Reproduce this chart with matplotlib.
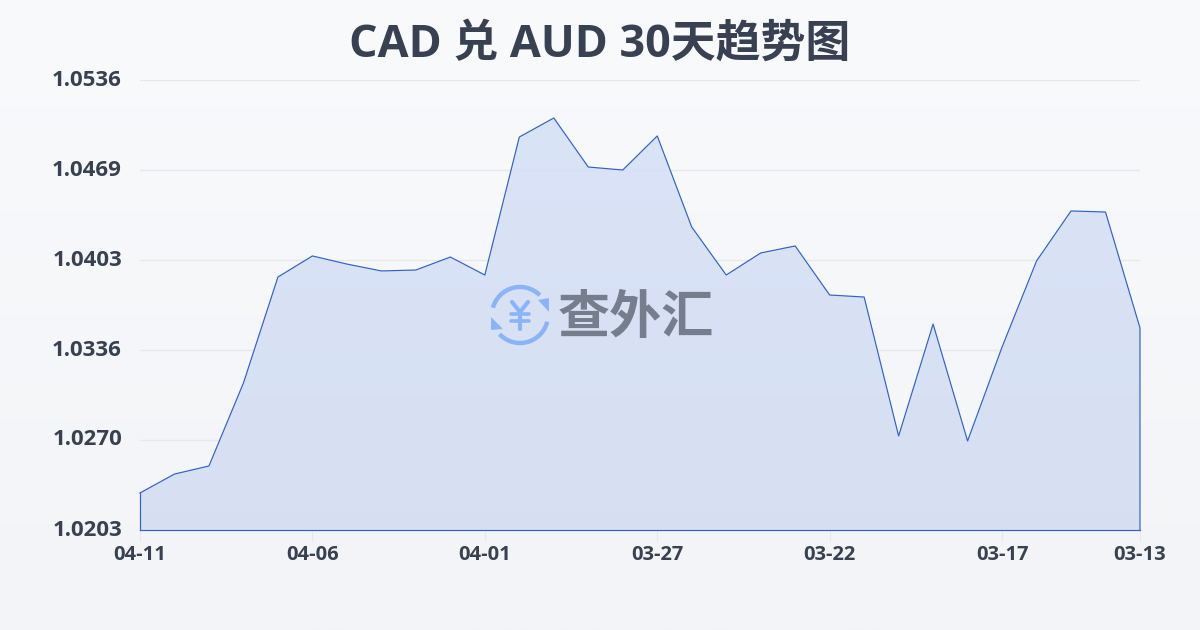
import numpy as np
import matplotlib
matplotlib.use('Agg')
import matplotlib.pyplot as plt
from matplotlib.patches import Arc, Polygon

plt.rcParams['font.family'] = ['Open Sans', 'Noto Sans CJK SC', 'DejaVu Sans']

dates = ['04-11', '04-06', '04-01', '03-27', '03-22', '03-17', '03-13']
date_pos = [0, 5, 10, 15, 20, 25, 29]
y_labels = ['1.0203', '1.0270', '1.0336', '1.0403', '1.0469', '1.0536']
y_ticks = [1.0203, 1.02696, 1.03362, 1.04028, 1.04694, 1.0536]
rates = [1.02304, 1.02444, 1.02504, 1.03118, 1.03902, 1.04058, 1.03998, 1.03947,
         1.03954, 1.04050, 1.03917, 1.04938, 1.05079, 1.04716, 1.04694, 1.04946,
         1.04272, 1.03917, 1.04080, 1.04132, 1.03769, 1.03754, 1.02726, 1.03554,
         1.02689, 1.03384, 1.04021, 1.04391, 1.04383, 1.03525]

fig = plt.figure(figsize=(12, 6.3), dpi=100)

# page background
bg = fig.add_axes([0, 0, 1, 1], zorder=0)
bg.imshow(np.linspace(0, 1, 256).reshape(-1, 1), aspect='auto', extent=(0, 1200, 630, 0),
          cmap=matplotlib.colors.LinearSegmentedColormap.from_list('bg', ['#f9fafc', '#f2f4f7']))
bg.axis('off')

ax = fig.add_axes([140 / 1200, 1 - 530 / 630, 1000 / 1200, 450 / 630], zorder=1)
ax.patch.set_alpha(0)
x = np.arange(len(rates))
ax.set_xlim(0, 29)
ax.set_ylim(y_ticks[0], y_ticks[-1])

for v in y_ticks[1:]:
    ax.axhline(v, color='#e6e8ec', lw=1, zorder=1)

# area fill with a slight vertical gradient
poly = Polygon(np.column_stack([np.r_[x, x[-1], x[0]], np.r_[rates, y_ticks[0], y_ticks[0]]]),
               transform=ax.transData, fc='none', ec='none')
ax.add_patch(poly)
img = ax.imshow(np.linspace(0, 1, 256).reshape(-1, 1), aspect='auto', zorder=2,
                extent=(0, 29, y_ticks[0], y_ticks[-1]), origin='upper',
                cmap=matplotlib.colors.LinearSegmentedColormap.from_list(
                    'fill', [(0.84, 0.885, 0.97, 0.88), (0.83, 0.87, 0.95, 0.88)]))
img.set_clip_path(poly)

ax.plot(np.r_[x, x[-1]], np.r_[rates, y_ticks[0]], color='#2f62c8', lw=0.85, zorder=3, clip_on=False)
ax.plot([0, 0], [rates[0], y_ticks[0]], color='#2f62c8', lw=0.85, zorder=3, clip_on=False)
ax.plot([0, 29], [y_ticks[0], y_ticks[0]], color='#2f62c8', lw=0.85, zorder=3, clip_on=False)

for s in ax.spines.values():
    s.set_visible(False)
ax.set_xticks(date_pos, dates)
ax.set_yticks(y_ticks, y_labels)
ax.tick_params(axis='x', length=8, width=0.8, color='#e6e8ec', pad=3, labelsize=14.5,
               labelcolor='#374151')
ax.tick_params(axis='y', length=0, pad=13, labelsize=16, labelcolor='#374151')
for t in ax.get_xticklabels() + ax.get_yticklabels():
    t.set_fontweight('bold')
for t in ax.get_yticklabels():
    t.set_verticalalignment('center')

fig.text(0.5, 1 - 45 / 630, 'CAD 兑 AUD 30天趋势图', ha='center', va='center', fontsize=32.3,
         fontweight='bold', color='#374151')

# watermark logo, drawn in pixel coordinates
ov = fig.add_axes([0, 0, 1, 1], zorder=2)
ov.set_xlim(0, 1200)
ov.set_ylim(630, 0)
ov.axis('off')
blue = '#8ab4f8'
ov.add_patch(Arc((520, 315), 56, 56, theta1=195, theta2=315, color=blue, lw=3.2))
ov.add_patch(Arc((520, 315), 56, 56, theta1=14, theta2=137, color=blue, lw=3.2))
ov.add_patch(Polygon([[538, 300], [549, 298], [549, 312]], fc=blue, ec='none'))
ov.add_patch(Polygon([[491, 317], [503, 329], [491, 330]], fc=blue, ec='none'))
# yen sign
ov.plot([512, 520, 528], [302, 312, 302], color=blue, lw=3, solid_capstyle='round', solid_joinstyle='round')
ov.plot([520, 520], [312, 329], color=blue, lw=3, solid_capstyle='round')
ov.plot([511, 529], [314, 314], color=blue, lw=2.6, solid_capstyle='round')
ov.plot([511, 529], [321, 321], color=blue, lw=2.6, solid_capstyle='round')
ov.text(636, 318, '查外汇', ha='center', va='center', fontsize=37.5, fontweight='bold', color='#767e8e',
        family='Noto Sans CJK SC')

fig.savefig('out.png', dpi=100)
